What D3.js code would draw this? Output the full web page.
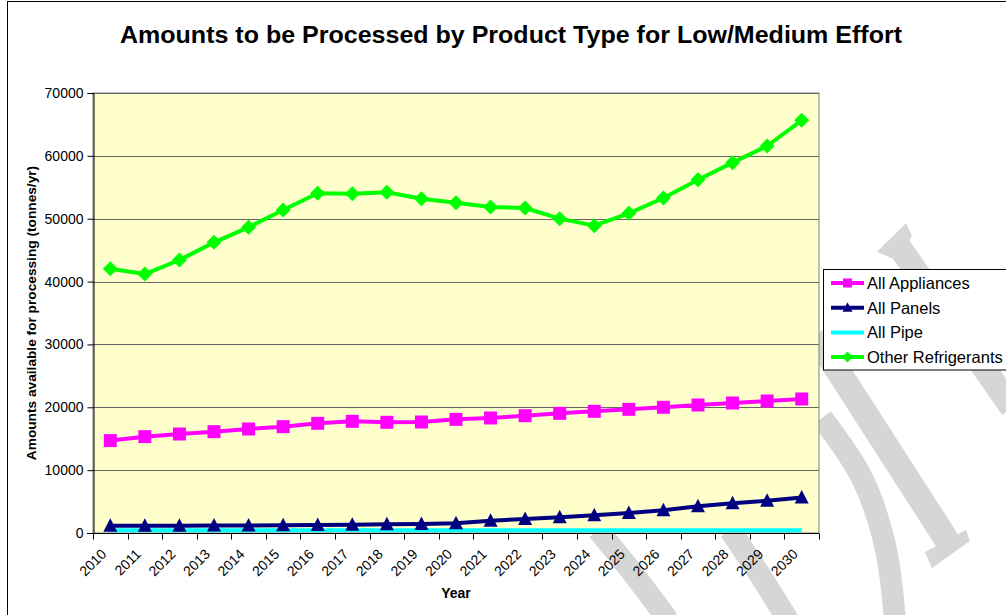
<!DOCTYPE html>
<html>
<head>
<meta charset="utf-8">
<script src="https://cdn.jsdelivr.net/npm/d3@7"></script>
<style>
  html, body { margin: 0; padding: 0; background: #fff; }
  svg { display: block; font-family: Arial, "Liberation Sans", sans-serif; }
</style>
</head>
<body>
<svg id="chart" width="1006" height="615"></svg>
<script>
const years = ["2010","2011","2012","2013","2014","2015","2016","2017","2018","2019","2020",
               "2021","2022","2023","2024","2025","2026","2027","2028","2029","2030"];
const allAppliances = [14700,15330,15750,16120,16550,16920,17450,17770,17610,17660,18080,
                       18300,18660,19040,19360,19680,20000,20360,20680,21000,21320];
const allPanels = [1150,1150,1170,1180,1200,1230,1270,1300,1380,1420,1540,
                   1960,2230,2490,2810,3180,3610,4240,4720,5140,5650];
const allPipe = [420,420,420,420,420,420,420,420,420,420,420,
                 420,420,420,420,420,420,420,420,420,420];
const otherRefrigerants = [42050,41200,43430,46240,48630,51390,54040,53990,54200,53190,52550,
                           51860,51700,50010,48900,50850,53300,56210,58920,61570,65650];
const yTicks = [0,10000,20000,30000,40000,50000,60000,70000];
const seriesNames = ["All Appliances","All Panels","All Pipe","Other Refrigerants"];

const chartTitle = "Amounts to be Processed by Product Type for Low/Medium Effort";
const yTitle = "Amounts available for processing (tonnes/yr)";
const xTitle = "Year";

const series = [
  {name: seriesNames[0], values: allAppliances, color: "#FF00FF", marker: "square"},
  {name: seriesNames[1], values: allPanels, color: "#000080", marker: "triangle"},
  {name: seriesNames[2], values: allPipe, color: "#00FFFF", marker: "none"},
  {name: seriesNames[3], values: otherRefrigerants, color: "#00FF00", marker: "diamond"}
];

const svg = d3.select("#chart");
const plot = {left: 93, top: 93, right: 819, bottom: 533};

// outer chart frame
svg.append("rect").attr("x", 7.5).attr("y", 1.5).attr("width", 1100).attr("height", 700)
  .attr("fill", "#fff").attr("stroke", "#000").attr("stroke-width", 1);

// decorative page watermark (behind the chart), approximate grey strokes
const wmColor = "#d6d6d6";
const wm = svg.append("g").attr("fill", "none").attr("stroke", wmColor)
  .attr("stroke-linecap", "butt");
const wmLine = d3.line().curve(d3.curveCatmullRom);
const wmBands = [
  {pts: [[893,238],[1012,408]], w: 24},
  {pts: [[815,335],[950,545]], w: 25},
  {pts: [[822,418],[862,478],[885,545],[895,620]], w: 22},
  {pts: [[730,530],[760,575],[788,620]], w: 22},
  {pts: [[598,530],[632,572],[668,620]], w: 22}
];
wmBands.forEach(b => wm.append("path").attr("d", wmLine(b.pts)).attr("stroke-width", b.w));
wm.append("path").attr("d", "M932,568L925,552L966,530L970,541Z")
  .attr("fill", wmColor).attr("stroke", "none");
wm.append("path").attr("d", "M877,252L906,223L912,236L896,260Z")
  .attr("fill", wmColor).attr("stroke", "none");

const x = d3.scaleBand().domain(years).range([plot.left, plot.right]).paddingInner(0).paddingOuter(0);
const y = d3.scaleLinear().domain([0, 70000]).range([plot.bottom, plot.top]);
const cx = d => x(d) + x.bandwidth() / 2;

// plot area
svg.append("rect").attr("x", plot.left).attr("y", plot.top)
  .attr("width", plot.right - plot.left).attr("height", plot.bottom - plot.top)
  .attr("fill", "#FFFFCC").attr("stroke", "#808080").attr("stroke-width", 1);

// gridlines
svg.append("g").selectAll("line").data(yTicks.filter(t => t > 0)).join("line")
  .attr("x1", plot.left).attr("x2", plot.right)
  .attr("y1", d => Math.round(y(d)) + 0.5).attr("y2", d => Math.round(y(d)) + 0.5)
  .attr("stroke", "#666").attr("stroke-width", 1);

// y axis
const yAxis = svg.append("g").attr("transform", `translate(${plot.left + 0.5},0)`)
  .call(d3.axisLeft(y).tickValues(yTicks).tickFormat(d3.format("d")).tickSize(6).tickPadding(4));
yAxis.select(".domain").attr("stroke", "#000");
yAxis.selectAll(".tick line").attr("stroke", "#000");
yAxis.selectAll("text").attr("font-size", "14px").attr("fill", "#000")
  .attr("font-family", "Arial, 'Liberation Sans', sans-serif");

// x axis (ticks at category boundaries)
const xg = svg.append("g").attr("transform", `translate(0,${plot.bottom + 0.5})`);
xg.append("line").attr("x1", plot.left - 6).attr("x2", plot.right).attr("y1", 0).attr("y2", 0)
  .attr("stroke", "#000");
const bounds = years.map(d => x(d)).concat([x(years[years.length - 1]) + x.bandwidth()]);
xg.selectAll("line.tk").data(bounds).join("line").attr("class", "tk")
  .attr("x1", d => Math.round(d) + 0.5).attr("x2", d => Math.round(d) + 0.5)
  .attr("y1", 0).attr("y2", 6).attr("stroke", "#000");
svg.append("g").selectAll("text").data(years).join("text")
  .attr("transform", d => `translate(${cx(d) - 3},${plot.bottom + 22}) rotate(-45)`)
  .attr("text-anchor", "end").attr("font-size", "14px").attr("fill", "#000")
  .text(d => d);

// lines
const line = vals => d3.line().x((v, i) => cx(years[i])).y(v => y(v))(vals);
const order = [2, 1, 0, 3];
order.forEach(k => {
  const s = series[k];
  svg.append("path").attr("d", line(s.values)).attr("fill", "none")
    .attr("stroke", s.color).attr("stroke-width", 4).attr("stroke-linejoin", "round");
});

function markerPath(type, size) {
  const h = size / 2;
  if (type === "square") return `M${-h},${-h}H${h}V${h}H${-h}Z`;
  if (type === "triangle") return `M0,${-h - 1}L${h + 0.5},${h - 0.5}L${-h - 0.5},${h - 0.5}Z`;
  if (type === "diamond") return `M0,${-h - 1}L${h + 1},0L0,${h + 1}L${-h - 1},0Z`;
  return "";
}
order.forEach(k => {
  const s = series[k];
  if (s.marker === "none") return;
  svg.append("g").selectAll("path").data(s.values).join("path")
    .attr("transform", (v, i) => `translate(${cx(years[i])},${y(v)})`)
    .attr("d", markerPath(s.marker, 13)).attr("fill", s.color);
});

// title
svg.append("text").attr("x", 511).attr("y", 43).attr("text-anchor", "middle")
  .attr("font-size", "23px").attr("font-weight", "bold").attr("fill", "#000")
  .attr("textLength", 782).attr("lengthAdjust", "spacingAndGlyphs")
  .text(chartTitle);

// axis titles
svg.append("text").attr("transform", `translate(36,${(plot.top + plot.bottom) / 2}) rotate(-90)`)
  .attr("text-anchor", "middle").attr("font-size", "13.7px").attr("font-weight", "bold")
  .text(yTitle);
svg.append("text").attr("x", (plot.left + plot.right) / 2).attr("y", 598)
  .attr("text-anchor", "middle").attr("font-size", "14px").attr("font-weight", "bold")
  .text(xTitle);

// legend
const lg = svg.append("g");
lg.append("rect").attr("x", 823.5).attr("y", 269.5).attr("width", 200).attr("height", 100.5)
  .attr("fill", "#fff").attr("stroke", "#000").attr("stroke-width", 1);
series.forEach((s, i) => {
  const yy = 283 + i * 24.7;
  lg.append("line").attr("x1", 831).attr("x2", 864).attr("y1", yy).attr("y2", yy)
    .attr("stroke", s.color).attr("stroke-width", 4);
  if (s.marker !== "none") {
    lg.append("path").attr("transform", `translate(847.5,${yy})`)
      .attr("d", markerPath(s.marker, 9)).attr("fill", s.color);
  }
  lg.append("text").attr("x", 867).attr("y", yy).attr("dy", "0.36em")
    .attr("font-size", "16.5px").attr("fill", "#000").text(s.name);
});
</script>
</body>
</html>
